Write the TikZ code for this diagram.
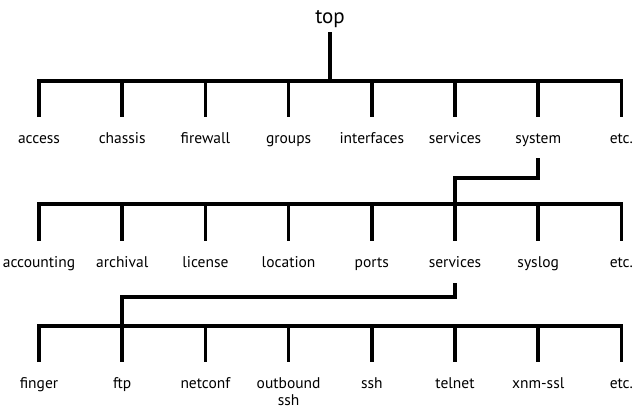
\documentclass[tikz,border=0pt]{standalone}
\usepackage{fontspec}
\setmainfont{PT Sans}
\usetikzlibrary{calc}

\begin{document}
\begin{tikzpicture}[x=1pt,y=-1pt,line width=3.5pt,line join=miter,
  leaf/.style={anchor=base,inner sep=0pt,font=\fontsize{15.5}{17}\selectfont}]
\useasboundingbox (0,0) rectangle (635,408);

%the root
\node[anchor=base,inner sep=0pt,font=\fontsize{21}{24}\selectfont] (top) at (330,23) {top};

%first level labels
\foreach \name [count=\i] in {access,chassis,firewall,groups,interfaces,services,system,etc.}
\node[leaf] (a\i) at ({39+83.2*(\i-1)},143) {\name};

%second level labels
\foreach \name [count=\i] in {accounting,archival,license,location,ports,services,syslog,etc.}
\node[leaf] (b\i) at ({39+83.2*(\i-1)},267) {\name};

%third level labels
\foreach \name [count=\i] in {finger,ftp,netconf,{\begin{tabular}[t]{@{}c@{}}outbound\\ssh\end{tabular}},ssh,telnet,xnm-ssl,etc.}
\node[leaf] (c\i) at ({39+83.2*(\i-1)},388) {\name};

%rails
\coordinate (ra) at (0,81);
\coordinate (rb) at (0,204);
\coordinate (rc) at (0,326);

%top to first rail
\draw[shorten <=9pt] (top.base) -- (top |- ra);

%first rail with its ticks
\draw ($(a1.base)+(0,-26)$) -- (a1 |- ra) -- (a8 |- ra) -- ($(a8.base)+(0,-26)$);
\foreach \i in {2,...,7}
\draw[shorten >=26pt] (a\i |- ra) -- (a\i.base);

%system down to second rail
\coordinate (ka) at (0,178);
\draw[shorten <=15pt] (a7.base) -- (a7 |- ka) -- (b6 |- ka) -- (b6 |- rb);

%second rail with its ticks
\draw ($(b1.base)+(0,-26)$) -- (b1 |- rb) -- (b8 |- rb) -- ($(b8.base)+(0,-26)$);
\foreach \i in {2,...,7}
\draw[shorten >=26pt] (b\i |- rb) -- (b\i.base);

%services down to third rail
\coordinate (kb) at (0,297);
\draw[shorten <=16pt] (b6.base) -- (b6 |- kb) -- (c2 |- kb) -- (c2 |- rc);

%third rail with its ticks
\draw ($(c1.base)+(0,-26)$) -- (c1 |- rc) -- (c8 |- rc) -- ($(c8.base)+(0,-26)$);
\foreach \i in {2,...,7}
\draw[shorten >=26pt] (c\i |- rc) -- (c\i.base);

\end{tikzpicture}
\end{document}
